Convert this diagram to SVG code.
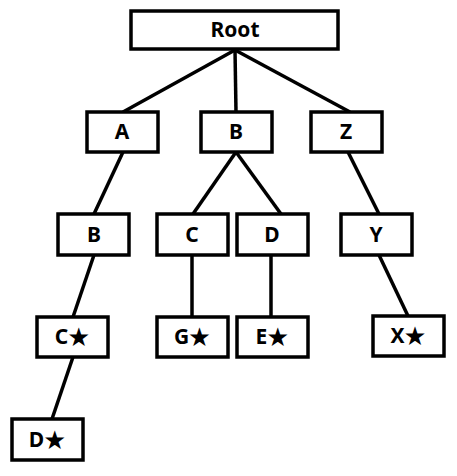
<svg xmlns="http://www.w3.org/2000/svg" width="457" height="476" viewBox="0 0 457 476">
<style>
.box{fill:#fff;stroke:#000;stroke-width:3.5}
.lbl{font-family:"Noto Sans","Noto Sans CJK KR",sans-serif;font-weight:bold;font-size:21px;text-anchor:middle;fill:#000}
.edge{stroke:#000;stroke-width:3.5;fill:none}
</style>
<rect width="457" height="476" fill="#fff"/>
<g id="connectors">
<line class="edge" x1="235" y1="50" x2="123" y2="112"/>
<line class="edge" x1="235" y1="50" x2="236" y2="112"/>
<line class="edge" x1="235" y1="50" x2="350" y2="112"/>
<line class="edge" x1="123" y1="152" x2="94" y2="214"/>
<line class="edge" x1="236" y1="152" x2="193" y2="214"/>
<line class="edge" x1="236" y1="152" x2="281" y2="214"/>
<line class="edge" x1="348" y1="152" x2="379" y2="214"/>
<line class="edge" x1="94" y1="255" x2="73" y2="317"/>
<line class="edge" x1="192" y1="255" x2="192" y2="317"/>
<line class="edge" x1="271" y1="255" x2="271" y2="317"/>
<line class="edge" x1="379" y1="255" x2="408" y2="316"/>
<line class="edge" x1="73" y1="357" x2="52" y2="419"/>
</g>
<g id="root"><rect class="box" x="131" y="11" width="207" height="38"/><text class="lbl" x="235" y="37">Root</text></g>
<g id="a"><rect class="box" x="87" y="112" width="71" height="40"/><text class="lbl" x="122" y="139">A</text></g>
<g id="b1"><rect class="box" x="201" y="112" width="71" height="40"/><text class="lbl" x="236" y="139">B</text></g>
<g id="z"><rect class="box" x="311" y="112" width="71" height="40"/><text class="lbl" x="346" y="139">Z</text></g>
<g id="b2"><rect class="box" x="58" y="214" width="71" height="41"/><text class="lbl" x="94" y="242">B</text></g>
<g id="c1"><rect class="box" x="157" y="214" width="71" height="41"/><text class="lbl" x="192" y="242">C</text></g>
<g id="d1"><rect class="box" x="237" y="214" width="71" height="41"/><text class="lbl" x="272" y="242">D</text></g>
<g id="y"><rect class="box" x="341" y="214" width="71" height="41"/><text class="lbl" x="376" y="242">Y</text></g>
<g id="cstar"><rect class="box" x="37" y="317" width="71" height="40"/><text class="lbl" x="72" y="344">C★</text></g>
<g id="gstar"><rect class="box" x="157" y="317" width="71" height="40"/><text class="lbl" x="192" y="344">G★</text></g>
<g id="estar"><rect class="box" x="237" y="317" width="71" height="40"/><text class="lbl" x="272" y="344">E★</text></g>
<g id="xstar"><rect class="box" x="373" y="316" width="71" height="40"/><text class="lbl" x="408" y="343">X★</text></g>
<g id="dstar"><rect class="box" x="12" y="419" width="71" height="41"/><text class="lbl" x="47" y="447">D★</text></g>
</svg>
